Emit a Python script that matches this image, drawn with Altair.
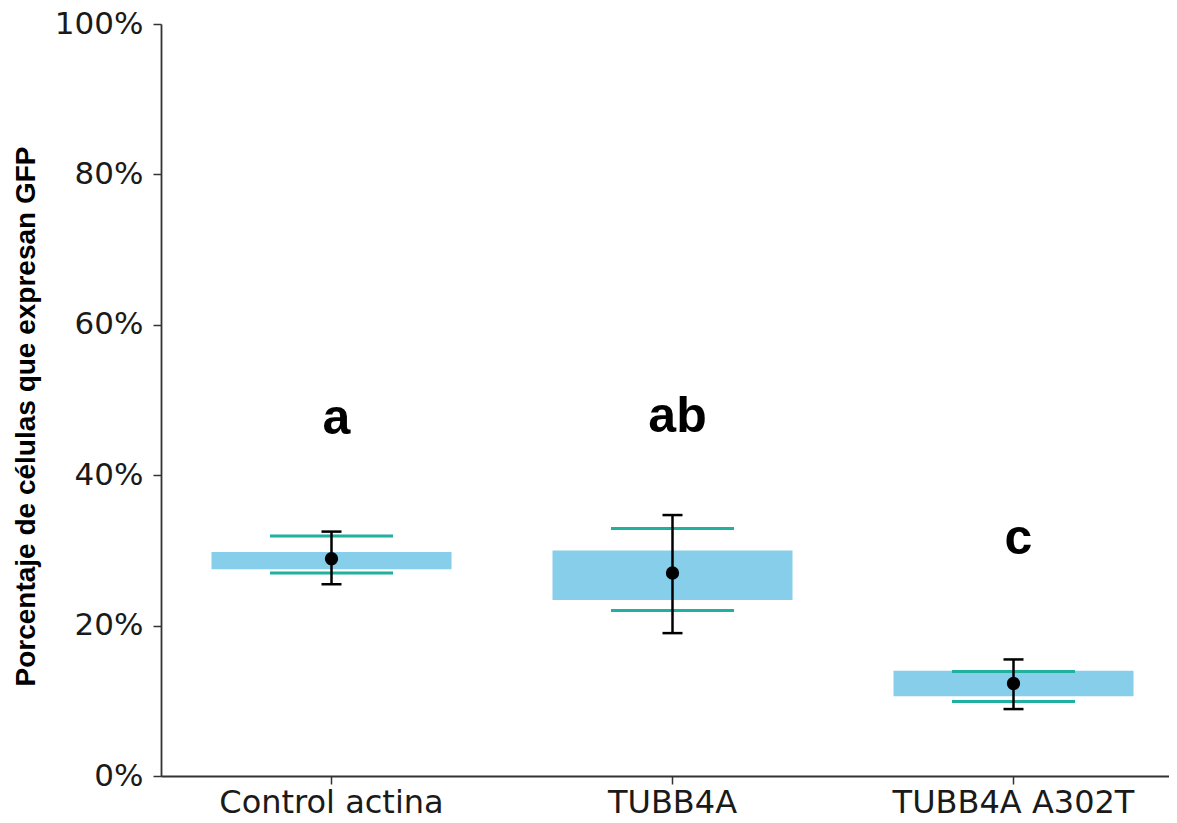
import altair as alt
import pandas as pd

categories = ["Control actina", "TUBB4A", "TUBB4A A302T"]
box_low = [27.5, 23.4, 10.6]
box_high = [29.8, 30.0, 14.0]
line_low = [27.0, 22.0, 9.9]
line_high = [31.9, 32.9, 13.9]
mean_vals = [28.9, 27.0, 12.3]
err_low = [25.5, 19.0, 8.9]
err_high = [32.5, 34.7, 15.5]
letters = ["a", "ab", "c"]
letter_y = [45.5, 45.8, 29.5]

df = pd.DataFrame({
    "cat": categories,
    "box_low": box_low,
    "box_high": box_high,
    "line_low": line_low,
    "line_high": line_high,
    "mean": mean_vals,
    "err_low": err_low,
    "err_high": err_high,
    "letter": letters,
    "letter_y": letter_y,
})

TITLE = "Porcentaje de células que expresan GFP"

x_enc = alt.X(
    "cat:N",
    sort=categories,
    scale=alt.Scale(domain=categories, range=[0, 1023], paddingInner=0, paddingOuter=0),
    axis=alt.Axis(
        title=None, labelAngle=0, labelFont="DejaVu Sans", labelFontSize=32,
        labelColor="#1a1a1a", tickSize=8, tickWidth=1.5, tickColor="#333",
        domainColor="#333", domainWidth=1.8, labelPadding=3, grid=False, labelLimit=0,
    ),
)

y_axis = alt.Axis(
    title=TITLE, values=[0, 20, 40, 60, 80, 100], labelExpr="datum.value + '%'",
    labelFont="DejaVu Sans", labelFontSize=31, labelColor="#1a1a1a",
    tickSize=8, tickWidth=1.5, tickColor="#333", domainColor="#333", domainWidth=1.8,
    labelPadding=10, grid=False, titleFont="Liberation Sans", titleFontSize=28,
    titleFontWeight="bold", titleColor="#000", titlePadding=14, labelLimit=0,
    titleY=392,
)
y_scale = alt.Scale(domain=[0, 100], nice=False, zero=True)


def Y(field):
    return alt.Y(field, type="quantitative", scale=y_scale, axis=y_axis)


base = alt.Chart(df)
TEAL = "#1fb0a0"

boxes = base.mark_bar(size=240, color="#87ceeb").encode(
    x=x_enc, y=Y("box_low"), y2="box_high"
)
line_lo = base.mark_tick(orient="horizontal", size=123, thickness=3, color=TEAL, opacity=1).encode(
    x=x_enc, y=Y("line_low")
)
line_hi = base.mark_tick(orient="horizontal", size=123, thickness=3, color=TEAL, opacity=1).encode(
    x=x_enc, y=Y("line_high")
)
err_rule = base.mark_rule(strokeWidth=2.5, color="#000").encode(
    x=x_enc, y=Y("err_low"), y2="err_high"
)
cap_lo = base.mark_tick(orient="horizontal", size=20, thickness=2.5, color="#000", opacity=1).encode(
    x=x_enc, y=Y("err_low")
)
cap_hi = base.mark_tick(orient="horizontal", size=20, thickness=2.5, color="#000", opacity=1).encode(
    x=x_enc, y=Y("err_high")
)
pts = base.mark_point(filled=True, size=177, color="#000", opacity=1).encode(
    x=x_enc, y=Y("mean")
)
txt = base.mark_text(
    font="Liberation Sans", fontWeight="bold", fontSize=50, baseline="alphabetic",
    align="center", color="#000", dx=5,
).encode(x=x_enc, y=Y("letter_y"), text="letter:N")

chart = alt.layer(boxes, line_lo, line_hi, err_rule, cap_lo, cap_hi, pts, txt).properties(
    width=1008, height=752,
    autosize=alt.AutoSizeParams(type="none"),
    padding={"left": 153, "top": 16, "right": 0, "bottom": 44},
    background="white",
).configure_view(stroke=None)

chart.save("out.html", embed_options={"renderer": "svg", "actions": False})
